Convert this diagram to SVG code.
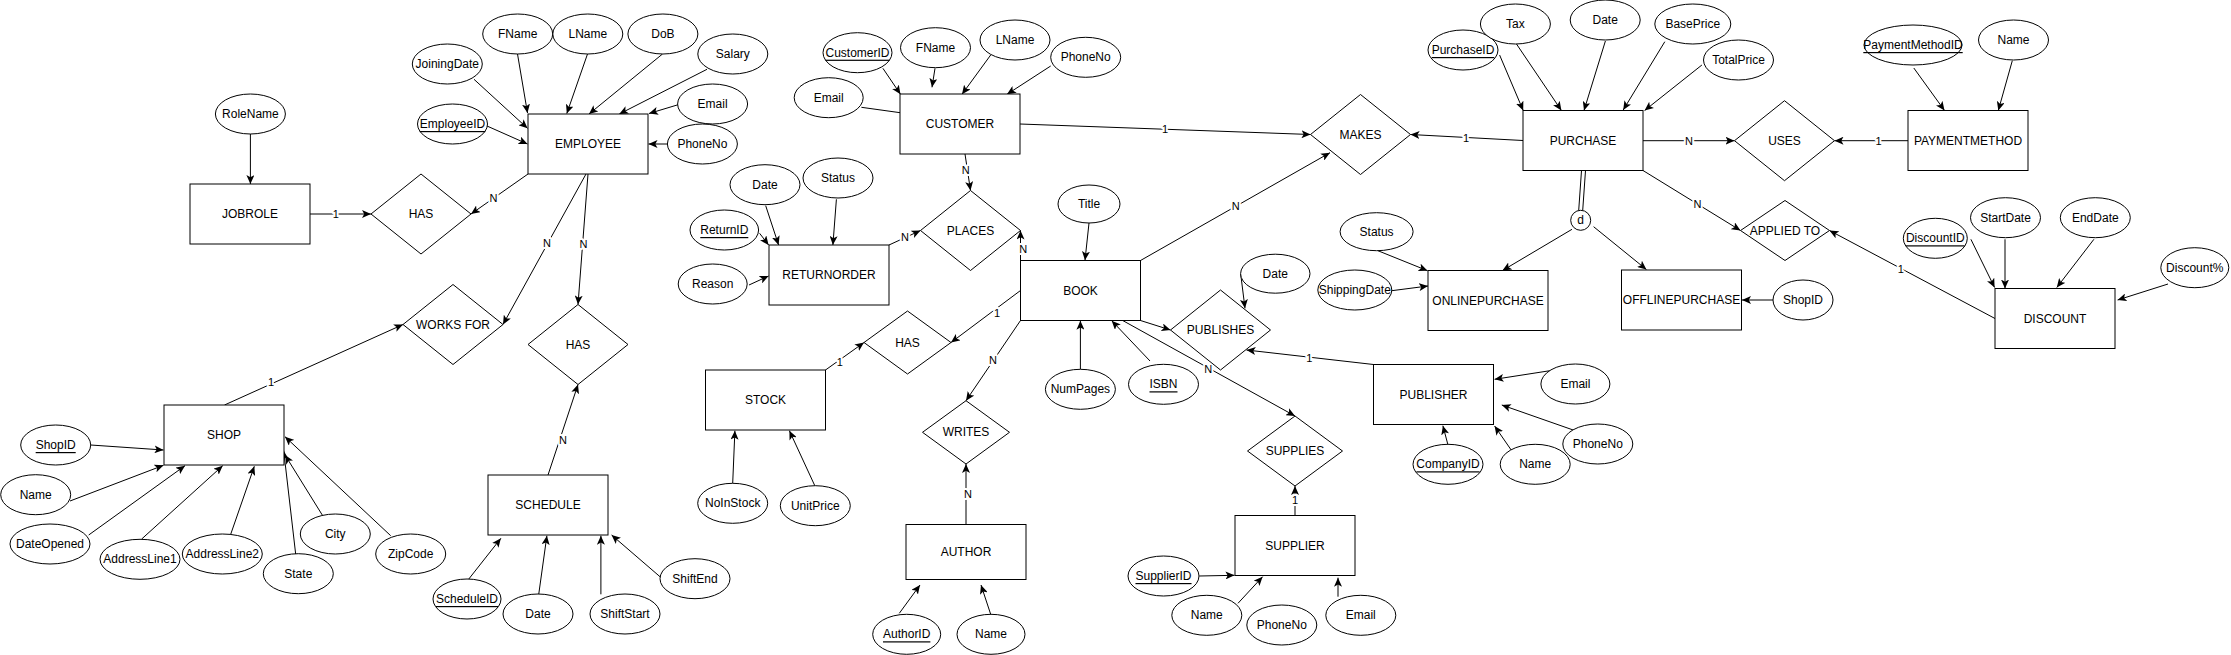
<svg xmlns="http://www.w3.org/2000/svg" width="2231" height="655" viewBox="0 0 2231 655">
<style>
.ent rect{fill:#fff;stroke:#000;stroke-width:1}
.rel polygon{fill:#fff;stroke:#000;stroke-width:1}
.attr ellipse{fill:#fff;stroke:#000;stroke-width:1}
text{font-family:"Liberation Sans",Arial,Helvetica,sans-serif;font-size:12px;fill:#000;text-anchor:middle;dominant-baseline:central}
.u{text-decoration:underline}
#connectors line{stroke:#000;stroke-width:1;fill:none}
#connectors .a{marker-end:url(#arr)}
#connectors text{font-size:11px;stroke:#fff;stroke-width:4px;paint-order:stroke;stroke-linejoin:round}
#connectors circle{fill:#fff;stroke:#000;stroke-width:1}
#connectors text.d{font-size:12px;stroke:none}
</style>
<defs>
<marker id="arr" markerUnits="userSpaceOnUse" markerWidth="10" markerHeight="8" refX="9" refY="4" orient="auto">
<path d="M0,0 L9,4 L0,8 L2.2,4 Z" fill="#000"/>
</marker>
</defs>
<rect width="2231" height="655" fill="#fff"/>

<g id="connectors">
<!-- Employee attributes -->
<line class="a" x1="517.5" y1="54" x2="527.5" y2="113"/>
<line class="a" x1="474" y1="79.3" x2="527.5" y2="128.3"/>
<line class="a" x1="487" y1="126" x2="527.5" y2="144"/>
<line class="a" x1="587.5" y1="54" x2="566.8" y2="113.5"/>
<line class="a" x1="662.5" y1="54" x2="589" y2="114"/>
<line class="a" x1="707" y1="69.3" x2="619.3" y2="114"/>
<line class="a" x1="678.2" y1="104.7" x2="649" y2="113.5"/>
<line class="a" x1="667.9" y1="144" x2="648.5" y2="144"/>
<line class="a" x1="250.4" y1="134" x2="250.4" y2="184"/>
<!-- Customer attributes -->
<line class="a" x1="882.9" y1="68.3" x2="900.5" y2="94.3"/>
<line class="a" x1="935" y1="68.3" x2="932" y2="87.3"/>
<line class="a" x1="990.7" y1="55" x2="962" y2="94.3"/>
<line class="a" x1="1050.7" y1="66" x2="1007" y2="94.3"/>
<line class="a" x1="861.4" y1="107.3" x2="909.6" y2="114"/>
<!-- Return attributes -->
<line class="a" x1="765.7" y1="205.7" x2="778.6" y2="245"/>
<line class="a" x1="836.4" y1="199.3" x2="832.9" y2="245"/>
<line class="a" x1="759.6" y1="233.3" x2="768.6" y2="245"/>
<line class="a" x1="749" y1="285" x2="768.6" y2="276"/>
<!-- Shop attributes -->
<line class="a" x1="90.7" y1="445" x2="163.5" y2="450"/>
<line class="a" x1="70" y1="501" x2="163.5" y2="465.3"/>
<line class="a" x1="88.7" y1="535" x2="185" y2="465.7"/>
<line class="a" x1="141.7" y1="539" x2="222.7" y2="465.7"/>
<line class="a" x1="230.7" y1="534.3" x2="254.3" y2="466.3"/>
<line class="a" x1="295.7" y1="554.3" x2="283.7" y2="450.7"/>
<line class="a" x1="322.7" y1="515.7" x2="285" y2="455"/>
<line class="a" x1="390.7" y1="535.7" x2="285" y2="436.7"/>
<!-- Schedule attributes -->
<line class="a" x1="468.8" y1="579" x2="500.9" y2="538.3"/>
<line class="a" x1="538.4" y1="596.7" x2="546.9" y2="535.7"/>
<line class="a" x1="600.9" y1="594.3" x2="600.9" y2="535.7"/>
<line class="a" x1="660.7" y1="577.3" x2="611.6" y2="535"/>
<!-- Stock attributes -->
<line class="a" x1="732.7" y1="483.3" x2="734.9" y2="430.7"/>
<line class="a" x1="814.8" y1="485.7" x2="789.4" y2="430.7"/>
<!-- Book attributes -->
<line class="a" x1="1089" y1="223" x2="1085" y2="260.3"/>
<line class="a" x1="1080.4" y1="369.3" x2="1080.4" y2="320.7"/>
<line class="a" x1="1150" y1="361" x2="1111.7" y2="320.7"/>
<!-- Author attributes -->
<line class="a" x1="899.3" y1="613.3" x2="920" y2="585"/>
<line class="a" x1="990.7" y1="614.3" x2="981" y2="585"/>
<!-- Publishes attribute -->
<line class="a" x1="1240.7" y1="274" x2="1245" y2="308.3"/>
<!-- Publisher attributes -->
<line class="a" x1="1550" y1="370.7" x2="1494.6" y2="379.3"/>
<line class="a" x1="1573.2" y1="430" x2="1501.8" y2="405"/>
<line class="a" x1="1511.2" y1="450" x2="1494.6" y2="426"/>
<line class="a" x1="1447.8" y1="444.3" x2="1442.9" y2="425.7"/>
<!-- Supplier attributes -->
<line class="a" x1="1199.3" y1="576" x2="1234.5" y2="575.3"/>
<line class="a" x1="1238" y1="603.3" x2="1262.6" y2="576.7"/>
<line class="a" x1="1338" y1="596.7" x2="1338" y2="577.7"/>
<!-- Purchase attributes -->
<line class="a" x1="1499.6" y1="55" x2="1523.2" y2="110.5"/>
<line class="a" x1="1516" y1="43.3" x2="1561.4" y2="110.5"/>
<line class="a" x1="1605.4" y1="41" x2="1584" y2="110.5"/>
<line class="a" x1="1664.8" y1="41.7" x2="1623.2" y2="110"/>
<line class="a" x1="1701.9" y1="65" x2="1644.6" y2="110.5"/>
<!-- Online / Offline attributes -->
<line class="a" x1="1377.9" y1="250.7" x2="1427.5" y2="270.7"/>
<line class="a" x1="1391.8" y1="290.7" x2="1428" y2="286"/>
<line class="a" x1="1773" y1="300" x2="1742" y2="300"/>
<!-- Payment method attributes -->
<line class="a" x1="1913.8" y1="68" x2="1944.5" y2="110.5"/>
<line class="a" x1="2012.3" y1="60.7" x2="1998.3" y2="110.5"/>
<!-- Discount attributes -->
<line class="a" x1="1970.9" y1="239.3" x2="1994.6" y2="287.5"/>
<line class="a" x1="2005" y1="239.3" x2="2005" y2="288.5"/>
<line class="a" x1="2093.9" y1="239.3" x2="2056.8" y2="287.5"/>
<line class="a" x1="2168" y1="284" x2="2117.6" y2="300"/>

<!-- Relationship connectors -->
<line class="a" x1="310" y1="214" x2="371" y2="214"/>
<text x="335.7" y="214">1</text>
<line class="a" x1="528" y1="174" x2="471" y2="214"/>
<text x="493.6" y="198.3">N</text>
<line class="a" x1="586" y1="174" x2="503" y2="324.5"/>
<text x="547" y="243.3">N</text>
<line class="a" x1="224.5" y1="405" x2="403" y2="324.5"/>
<text x="271" y="382">1</text>
<line class="a" x1="588" y1="174" x2="578" y2="304.5"/>
<text x="583.6" y="244">N</text>
<line class="a" x1="548" y1="475" x2="578" y2="384.5"/>
<text x="563" y="440">N</text>
<line class="a" x1="965" y1="154" x2="970.5" y2="190.5"/>
<text x="965.7" y="170">N</text>
<line class="a" x1="889" y1="245" x2="920.5" y2="230.5"/>
<text x="905" y="236.7">N</text>
<line class="a" x1="1020.5" y1="260.5" x2="1020.5" y2="230.5"/>
<text x="1023.2" y="248.7">N</text>
<line class="a" x1="1020.5" y1="290.5" x2="951" y2="342.5"/>
<text x="997" y="313.3">1</text>
<line class="a" x1="825.5" y1="370" x2="864" y2="342.5"/>
<text x="839.8" y="362.3">1</text>
<line class="a" x1="1020.5" y1="320.5" x2="966" y2="400.7"/>
<text x="993" y="360">N</text>
<line class="a" x1="966" y1="524.5" x2="966" y2="464"/>
<text x="968" y="494">N</text>
<line class="a" x1="1140.5" y1="320.5" x2="1170.5" y2="330"/>
<line class="a" x1="1373.5" y1="364.5" x2="1246.5" y2="350"/>
<text x="1309.3" y="357.7">1</text>
<line class="a" x1="1122.7" y1="320.5" x2="1295" y2="416"/>
<text x="1208.3" y="369">N</text>
<line class="a" x1="1295" y1="515.5" x2="1295" y2="486"/>
<text x="1295" y="500">1</text>
<line class="a" x1="1020" y1="124" x2="1310.5" y2="134.5"/>
<text x="1165" y="129">1</text>
<line class="a" x1="1140.5" y1="260.5" x2="1330" y2="152.7"/>
<text x="1235.7" y="205.5">N</text>
<line class="a" x1="1523" y1="140.5" x2="1410.5" y2="134.5"/>
<text x="1466" y="137.5">1</text>
<line class="a" x1="1643" y1="140.7" x2="1734.5" y2="140.7"/>
<text x="1689" y="140.7">N</text>
<line class="a" x1="1908" y1="140.7" x2="1834.5" y2="140.7"/>
<text x="1878.6" y="140.7">1</text>
<line class="a" x1="1643" y1="170.5" x2="1740.5" y2="230.5"/>
<text x="1697.4" y="204">N</text>
<line class="a" x1="1995" y1="318.5" x2="1829.5" y2="230.5"/>
<text x="1900.8" y="269.3">1</text>
<!-- Disjoint specialization -->
<line x1="1581.5" y1="170.5" x2="1578.7" y2="210.5"/>
<line x1="1585.5" y1="170.5" x2="1582.7" y2="210.5"/>
<line class="a" x1="1572" y1="229.3" x2="1502.5" y2="270.5"/>
<line class="a" x1="1593.6" y1="226.7" x2="1646.4" y2="269.5"/>
<circle cx="1580.7" cy="220.3" r="10"/>
<text class="d" x="1580.7" y="219.5">d</text>
</g>

<!-- Entities -->
<g id="jobrole" class="ent"><rect x="190" y="184" width="120" height="60"/><text x="250" y="214">JOBROLE</text></g>
<g id="employee" class="ent"><rect x="528" y="114" width="120" height="60"/><text x="588" y="144">EMPLOYEE</text></g>
<g id="customer" class="ent"><rect x="900" y="94" width="120" height="60"/><text x="960" y="124">CUSTOMER</text></g>
<g id="returnorder" class="ent"><rect x="769" y="245" width="120" height="60"/><text x="829" y="275">RETURNORDER</text></g>
<g id="book" class="ent"><rect x="1020.5" y="260.5" width="120" height="60"/><text x="1080.5" y="290.5">BOOK</text></g>
<g id="shop" class="ent"><rect x="164" y="405" width="120" height="60"/><text x="224" y="435">SHOP</text></g>
<g id="schedule" class="ent"><rect x="488" y="475" width="120" height="60"/><text x="548" y="505">SCHEDULE</text></g>
<g id="stock" class="ent"><rect x="705.5" y="370" width="120" height="60"/><text x="765.5" y="400">STOCK</text></g>
<g id="author" class="ent"><rect x="906" y="524.5" width="120" height="55"/><text x="966" y="552">AUTHOR</text></g>
<g id="supplier" class="ent"><rect x="1235" y="515.5" width="120" height="60"/><text x="1295" y="545.5">SUPPLIER</text></g>
<g id="publisher" class="ent"><rect x="1373.5" y="364.5" width="120" height="60"/><text x="1433.5" y="394.5">PUBLISHER</text></g>
<g id="purchase" class="ent"><rect x="1523" y="110.5" width="120" height="60"/><text x="1583" y="140.5">PURCHASE</text></g>
<g id="onlinepurchase" class="ent"><rect x="1428" y="270.5" width="120" height="60"/><text x="1488" y="300.5">ONLINEPURCHASE</text></g>
<g id="offlinepurchase" class="ent"><rect x="1621.5" y="270" width="120" height="60"/><text x="1681.5" y="300">OFFLINEPURCHASE</text></g>
<g id="paymentmethod" class="ent"><rect x="1908" y="110.5" width="120" height="60"/><text x="1968" y="140.5">PAYMENTMETHOD</text></g>
<g id="discount" class="ent"><rect x="1995" y="288.5" width="120" height="60"/><text x="2055" y="318.5">DISCOUNT</text></g>

<!-- Relationships -->
<g id="has_jobrole" class="rel"><polygon points="421,174 471,214 421,254 371,214"/><text x="421" y="214">HAS</text></g>
<g id="works_for" class="rel"><polygon points="453,284.5 503,324.5 453,364.5 403,324.5"/><text x="453" y="324.5">WORKS FOR</text></g>
<g id="has_schedule" class="rel"><polygon points="578,304.5 628,344.5 578,384.5 528,344.5"/><text x="578" y="344.5">HAS</text></g>
<g id="places" class="rel"><polygon points="970.5,190.5 1020.5,230.5 970.5,270.5 920.5,230.5"/><text x="970.5" y="230.5">PLACES</text></g>
<g id="has_stock" class="rel"><polygon points="907.5,311 951,342.5 907.5,374 864,342.5"/><text x="907.5" y="342.5">HAS</text></g>
<g id="writes" class="rel"><polygon points="966,400.7 1009.5,432.3 966,464 922.5,432.3"/><text x="966" y="432.3">WRITES</text></g>
<g id="makes" class="rel"><polygon points="1360.5,94.5 1410.5,134.5 1360.5,174.5 1310.5,134.5"/><text x="1360.5" y="134.5">MAKES</text></g>
<g id="publishes" class="rel"><polygon points="1220.5,290 1270.5,330 1220.5,370 1170.5,330"/><text x="1220.5" y="330">PUBLISHES</text></g>
<g id="supplies" class="rel"><polygon points="1295,416 1342.5,451 1295,486 1247.5,451"/><text x="1295" y="451">SUPPLIES</text></g>
<g id="uses" class="rel"><polygon points="1784.5,100.7 1834.5,140.7 1784.5,180.7 1734.5,140.7"/><text x="1784.5" y="140.7">USES</text></g>
<g id="applied_to" class="rel"><polygon points="1785,200.5 1829.5,230.5 1785,260.5 1740.5,230.5"/><text x="1785" y="230.5">APPLIED TO</text></g>

<!-- Attributes -->
<g id="attr_rolename" class="attr"><ellipse cx="250.4" cy="114" rx="35" ry="20"/><text x="250.4" y="114">RoleName</text></g>
<g id="attr_emp_fname" class="attr"><ellipse cx="517.7" cy="34" rx="35" ry="20"/><text x="517.7" y="34">FName</text></g>
<g id="attr_emp_lname" class="attr"><ellipse cx="587.8" cy="34" rx="35" ry="20"/><text x="587.8" y="34">LName</text></g>
<g id="attr_emp_dob" class="attr"><ellipse cx="662.9" cy="34" rx="35" ry="20"/><text x="662.9" y="34">DoB</text></g>
<g id="attr_emp_salary" class="attr"><ellipse cx="732.8" cy="54" rx="35" ry="20"/><text x="732.8" y="54">Salary</text></g>
<g id="attr_emp_email" class="attr"><ellipse cx="712.6" cy="104" rx="35" ry="20"/><text x="712.6" y="104">Email</text></g>
<g id="attr_emp_phone" class="attr"><ellipse cx="702.4" cy="144" rx="35" ry="20"/><text x="702.4" y="144">PhoneNo</text></g>
<g id="attr_emp_joining" class="attr"><ellipse cx="447.3" cy="64" rx="35" ry="20"/><text x="447.3" y="64">JoiningDate</text></g>
<g id="attr_emp_id" class="attr"><ellipse cx="452.5" cy="124" rx="35" ry="20"/><text class="u" x="452.5" y="124">EmployeeID</text></g>

<g id="attr_cust_id" class="attr"><ellipse cx="857.5" cy="52.7" rx="34.5" ry="20"/><text class="u" x="857.5" y="52.7">CustomerID</text></g>
<g id="attr_cust_fname" class="attr"><ellipse cx="935.5" cy="47.7" rx="35" ry="20"/><text x="935.5" y="47.7">FName</text></g>
<g id="attr_cust_lname" class="attr"><ellipse cx="1015" cy="40" rx="35" ry="20"/><text x="1015" y="40">LName</text></g>
<g id="attr_cust_phone" class="attr"><ellipse cx="1085.7" cy="57.3" rx="35" ry="20"/><text x="1085.7" y="57.3">PhoneNo</text></g>
<g id="attr_cust_email" class="attr"><ellipse cx="828.7" cy="97.7" rx="34.5" ry="20"/><text x="828.7" y="97.7">Email</text></g>

<g id="attr_ret_date" class="attr"><ellipse cx="765" cy="184.7" rx="35" ry="20"/><text x="765" y="184.7">Date</text></g>
<g id="attr_ret_status" class="attr"><ellipse cx="838" cy="178" rx="35" ry="20"/><text x="838" y="178">Status</text></g>
<g id="attr_ret_id" class="attr"><ellipse cx="724.3" cy="230" rx="34.3" ry="20"/><text class="u" x="724.3" y="230">ReturnID</text></g>
<g id="attr_ret_reason" class="attr"><ellipse cx="712.7" cy="284" rx="34.5" ry="20"/><text x="712.7" y="284">Reason</text></g>

<g id="attr_shop_id" class="attr"><ellipse cx="55.7" cy="445" rx="35" ry="20"/><text class="u" x="55.7" y="445">ShopID</text></g>
<g id="attr_shop_name" class="attr"><ellipse cx="35.7" cy="494.7" rx="35" ry="20"/><text x="35.7" y="494.7">Name</text></g>
<g id="attr_shop_opened" class="attr"><ellipse cx="50" cy="544" rx="40" ry="20"/><text x="50" y="544">DateOpened</text></g>
<g id="attr_shop_addr1" class="attr"><ellipse cx="140" cy="559.3" rx="40" ry="20"/><text x="140" y="559.3">AddressLine1</text></g>
<g id="attr_shop_addr2" class="attr"><ellipse cx="222.3" cy="554" rx="40" ry="20"/><text x="222.3" y="554">AddressLine2</text></g>
<g id="attr_shop_state" class="attr"><ellipse cx="298.3" cy="573.7" rx="35" ry="20"/><text x="298.3" y="573.7">State</text></g>
<g id="attr_shop_city" class="attr"><ellipse cx="335.3" cy="534" rx="35" ry="20"/><text x="335.3" y="534">City</text></g>
<g id="attr_shop_zip" class="attr"><ellipse cx="410.7" cy="554" rx="35" ry="20"/><text x="410.7" y="554">ZipCode</text></g>

<g id="attr_sched_id" class="attr"><ellipse cx="467" cy="599" rx="34" ry="20"/><text class="u" x="467" y="599">ScheduleID</text></g>
<g id="attr_sched_date" class="attr"><ellipse cx="538" cy="614" rx="35" ry="20"/><text x="538" y="614">Date</text></g>
<g id="attr_sched_start" class="attr"><ellipse cx="625" cy="614" rx="35" ry="20"/><text x="625" y="614">ShiftStart</text></g>
<g id="attr_sched_end" class="attr"><ellipse cx="695" cy="578.7" rx="35" ry="20"/><text x="695" y="578.7">ShiftEnd</text></g>

<g id="attr_stock_no" class="attr"><ellipse cx="732.7" cy="503.3" rx="35" ry="20"/><text x="732.7" y="503.3">NoInStock</text></g>
<g id="attr_stock_price" class="attr"><ellipse cx="815.3" cy="505.7" rx="35" ry="20"/><text x="815.3" y="505.7">UnitPrice</text></g>

<g id="attr_book_title" class="attr"><ellipse cx="1089" cy="204" rx="31" ry="19"/><text x="1089" y="204">Title</text></g>
<g id="attr_book_pages" class="attr"><ellipse cx="1080.4" cy="389.3" rx="35" ry="20"/><text x="1080.4" y="389.3">NumPages</text></g>
<g id="attr_book_isbn" class="attr"><ellipse cx="1163.5" cy="384.3" rx="35" ry="20"/><text class="u" x="1163.5" y="384.3">ISBN</text></g>

<g id="attr_author_id" class="attr"><ellipse cx="906.7" cy="634.3" rx="34" ry="20"/><text class="u" x="906.7" y="634.3">AuthorID</text></g>
<g id="attr_author_name" class="attr"><ellipse cx="991" cy="634.3" rx="34" ry="20"/><text x="991" y="634.3">Name</text></g>

<g id="attr_pub_date" class="attr"><ellipse cx="1275.3" cy="273.7" rx="34.7" ry="19.5"/><text x="1275.3" y="273.7">Date</text></g>

<g id="attr_publisher_email" class="attr"><ellipse cx="1575.4" cy="384" rx="34.5" ry="20"/><text x="1575.4" y="384">Email</text></g>
<g id="attr_publisher_phone" class="attr"><ellipse cx="1597.8" cy="444" rx="35" ry="20"/><text x="1597.8" y="444">PhoneNo</text></g>
<g id="attr_publisher_name" class="attr"><ellipse cx="1535.2" cy="464.3" rx="35" ry="20"/><text x="1535.2" y="464.3">Name</text></g>
<g id="attr_publisher_id" class="attr"><ellipse cx="1448" cy="464.3" rx="35" ry="20"/><text class="u" x="1448" y="464.3">CompanyID</text></g>

<g id="attr_supp_id" class="attr"><ellipse cx="1163.5" cy="576" rx="35.5" ry="20"/><text class="u" x="1163.5" y="576">SupplierID</text></g>
<g id="attr_supp_name" class="attr"><ellipse cx="1206.8" cy="615.3" rx="35" ry="20"/><text x="1206.8" y="615.3">Name</text></g>
<g id="attr_supp_phone" class="attr"><ellipse cx="1281.8" cy="625" rx="35" ry="20"/><text x="1281.8" y="625">PhoneNo</text></g>
<g id="attr_supp_email" class="attr"><ellipse cx="1360.8" cy="615.3" rx="35" ry="20"/><text x="1360.8" y="615.3">Email</text></g>

<g id="attr_purch_id" class="attr"><ellipse cx="1463" cy="50" rx="35" ry="20"/><text class="u" x="1463" y="50">PurchaseID</text></g>
<g id="attr_purch_tax" class="attr"><ellipse cx="1515.4" cy="24" rx="35" ry="20"/><text x="1515.4" y="24">Tax</text></g>
<g id="attr_purch_date" class="attr"><ellipse cx="1605.2" cy="20" rx="35" ry="20"/><text x="1605.2" y="20">Date</text></g>
<g id="attr_purch_base" class="attr"><ellipse cx="1692.8" cy="24" rx="38" ry="20"/><text x="1692.8" y="24">BasePrice</text></g>
<g id="attr_purch_total" class="attr"><ellipse cx="1738.5" cy="60" rx="35" ry="20"/><text x="1738.5" y="60">TotalPrice</text></g>

<g id="attr_online_status" class="attr"><ellipse cx="1376.6" cy="231.7" rx="36.5" ry="19"/><text x="1376.6" y="231.7">Status</text></g>
<g id="attr_online_ship" class="attr"><ellipse cx="1354.8" cy="290" rx="37" ry="20"/><text x="1354.8" y="290">ShippingDate</text></g>
<g id="attr_offline_shop" class="attr"><ellipse cx="1803" cy="300" rx="30" ry="20"/><text x="1803" y="300">ShopID</text></g>

<g id="attr_pm_id" class="attr"><ellipse cx="1913" cy="45" rx="49" ry="20"/><text class="u" x="1913" y="45">PaymentMethodID</text></g>
<g id="attr_pm_name" class="attr"><ellipse cx="2013.5" cy="40" rx="35" ry="20"/><text x="2013.5" y="40">Name</text></g>

<g id="attr_disc_id" class="attr"><ellipse cx="1935.3" cy="238.3" rx="32" ry="20"/><text class="u" x="1935.3" y="238.3">DiscountID</text></g>
<g id="attr_disc_start" class="attr"><ellipse cx="2005.5" cy="217.7" rx="35" ry="20"/><text x="2005.5" y="217.7">StartDate</text></g>
<g id="attr_disc_end" class="attr"><ellipse cx="2095.3" cy="217.7" rx="35" ry="20"/><text x="2095.3" y="217.7">EndDate</text></g>
<g id="attr_disc_pct" class="attr"><ellipse cx="2194.8" cy="267.7" rx="34" ry="20"/><text x="2194.8" y="267.7">Discount%</text></g>
</svg>
